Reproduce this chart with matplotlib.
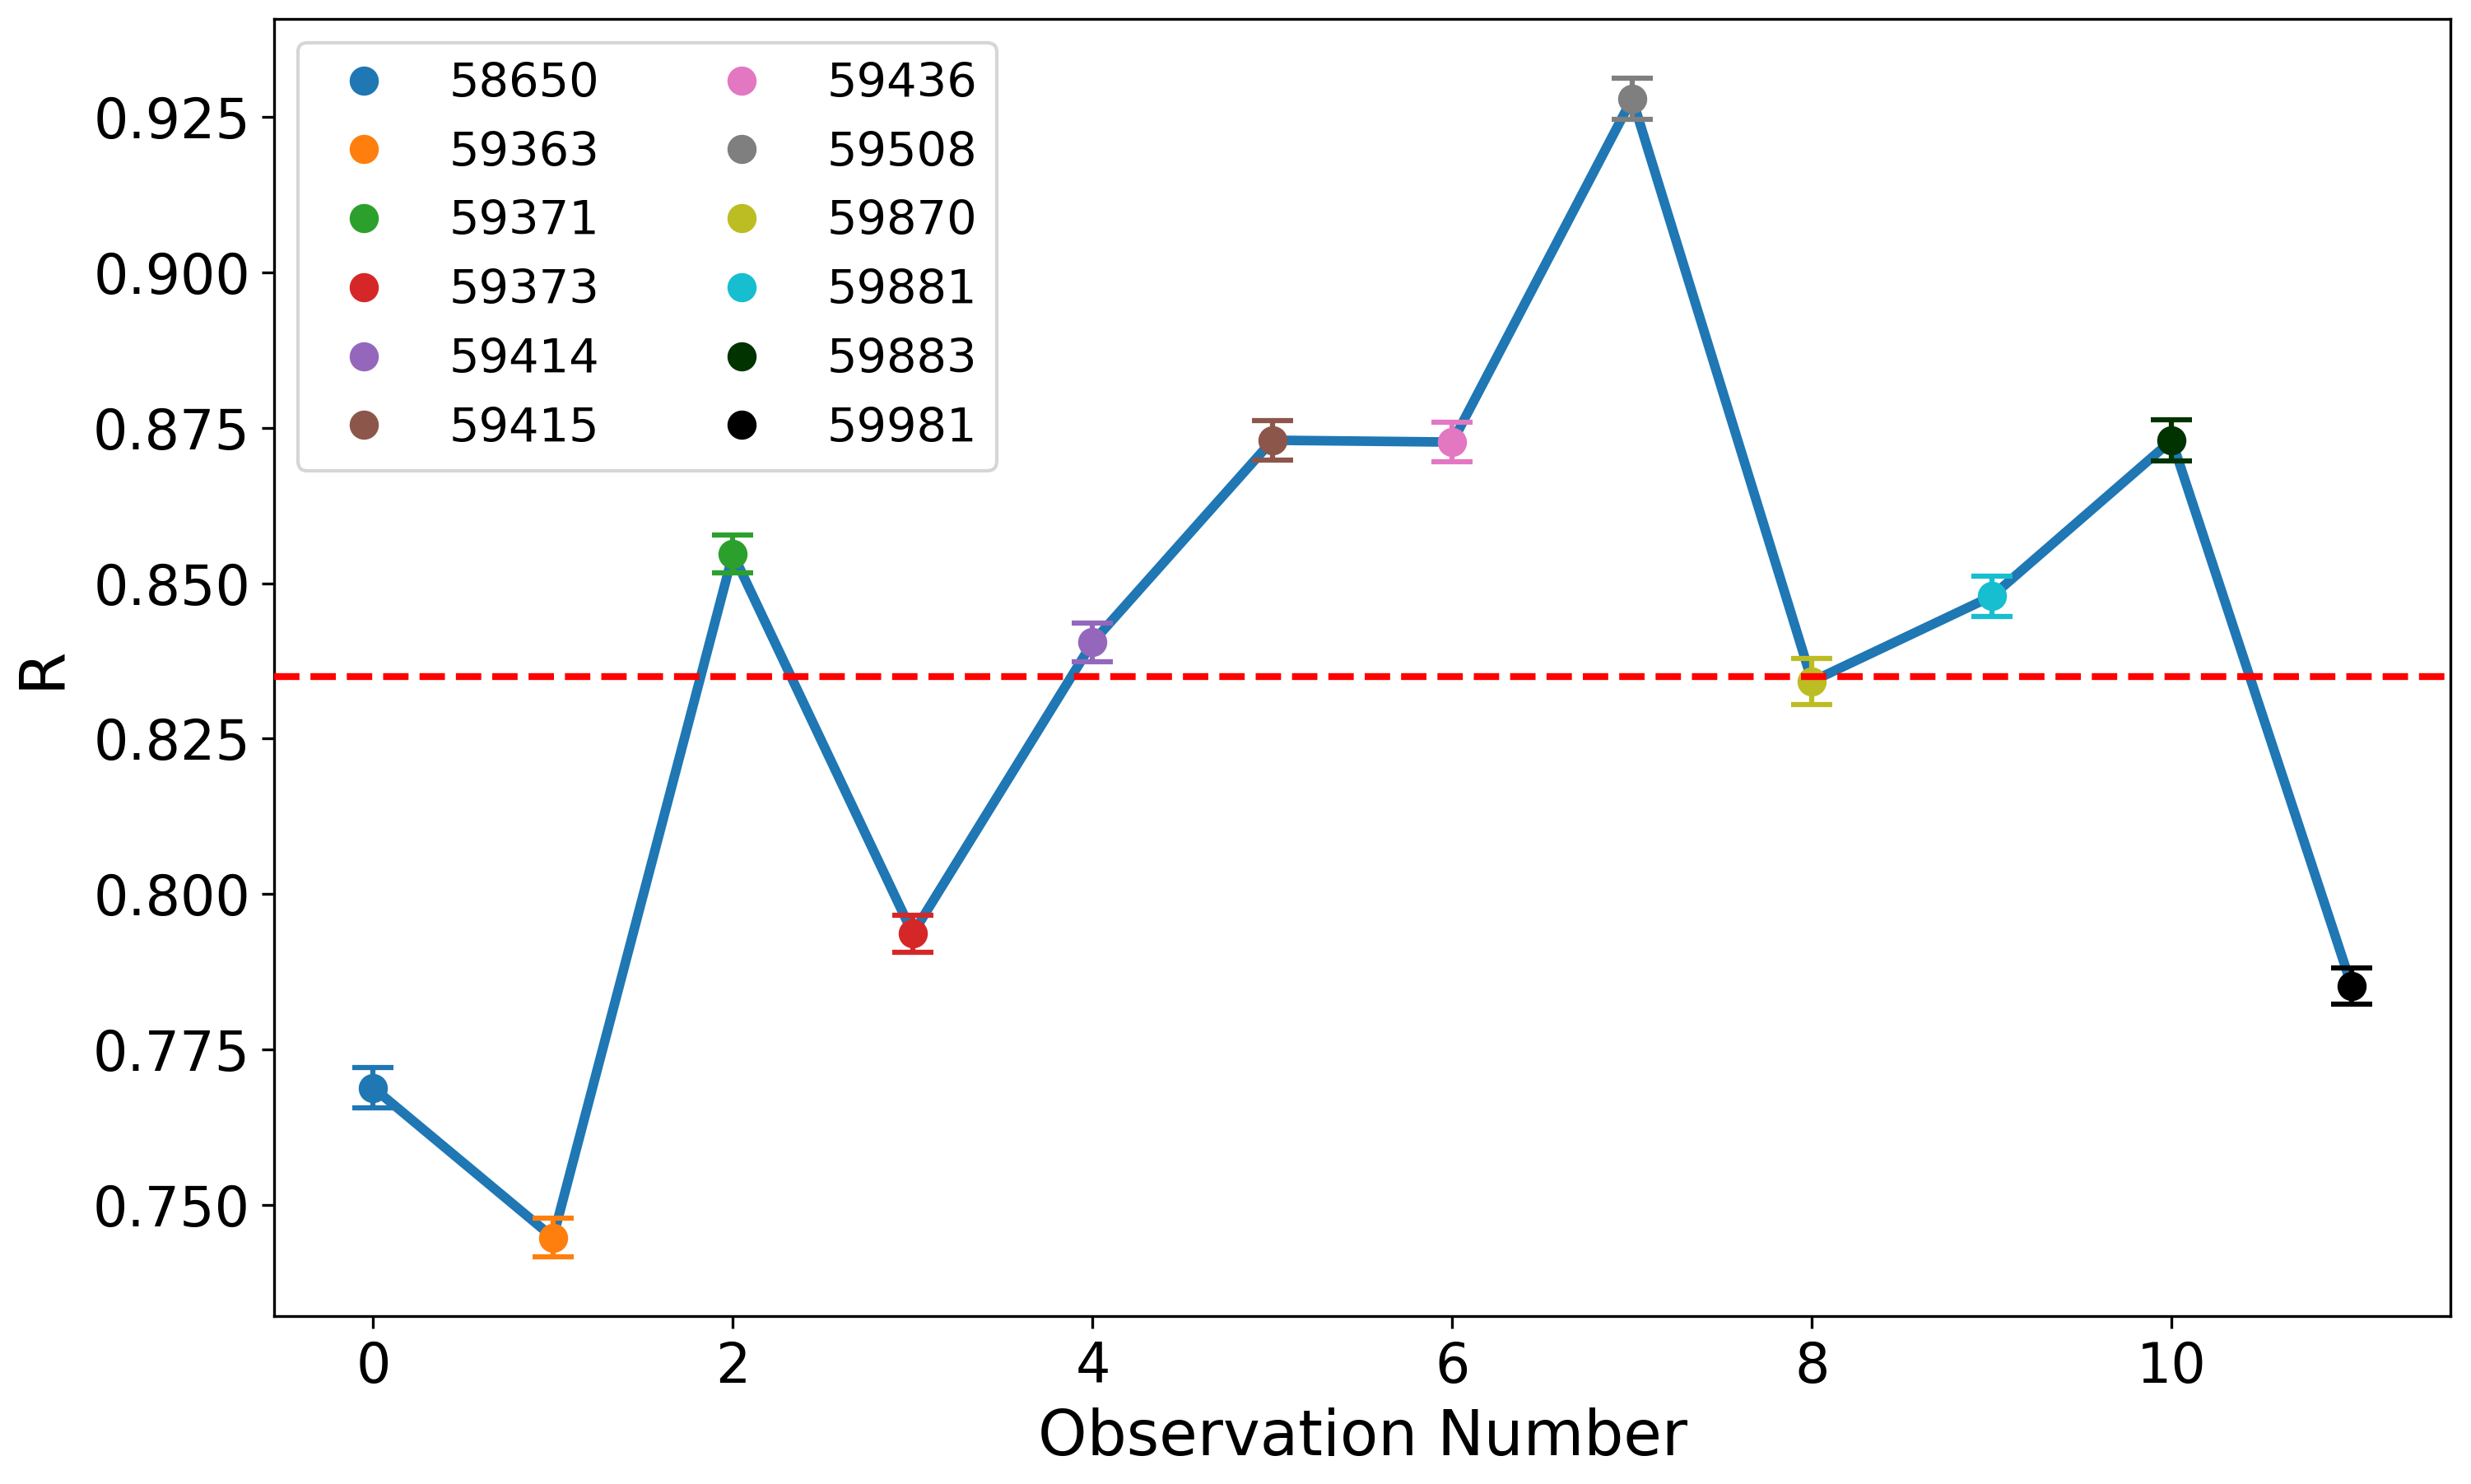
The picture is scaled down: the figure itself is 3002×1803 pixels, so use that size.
import numpy as np
import matplotlib
matplotlib.use('Agg')
from matplotlib import pyplot as plt

# valores
obs = np.arange(12)
mjd_labels = ['58650', '59363', '59371', '59373', '59414', '59415',
              '59436', '59508', '59870', '59881', '59883', '59981']
R = [0.7688, 0.7447, 0.8547, 0.7936, 0.8405, 0.8730,
     0.8727, 0.9280, 0.8342, 0.8479, 0.8730, 0.7852]
R_err = [0.0033, 0.0031, 0.0031, 0.0030, 0.0031, 0.0032,
         0.0032, 0.0033, 0.0037, 0.0032, 0.0033, 0.0029]
R_mean = 0.835
colores = ['#1f77b4', '#ff7f0e', '#2ca02c', '#d62728', '#9467bd', '#8c564b',
           '#e377c2', '#7f7f7f', '#bcbd22', '#17becf', '#003300', '#000000']

fig, ax = plt.subplots(figsize=(10.007, 6.01), dpi=300)
fig.subplots_adjust(left=0.111, right=0.9917, bottom=0.1134, top=0.9872)

# linea que une las observaciones
ax.plot(obs, R, color='#1f77b4', linewidth=2.8, zorder=1)

for i in range(len(obs)):
    ax.errorbar(obs[i], R[i], yerr=R_err[i], fmt='none', ecolor=colores[i],
                capsize=6, elinewidth=1.5, capthick=1.5, zorder=2)
    ax.plot(obs[i], R[i], 'o', color=colores[i], markersize=7.5,
            label=mjd_labels[i], zorder=3)

ax.axhline(R_mean, color='red', linestyle='--', linewidth=2, zorder=4)

ax.set_xlabel('Observation Number', fontsize=18.2)
ax.set_ylabel('R', fontsize=18.2, labelpad=6)
ax.tick_params(labelsize=16)
ax.legend(ncol=2, loc='upper left', fontsize=13.8)

fig.savefig('out.png', dpi=300)
